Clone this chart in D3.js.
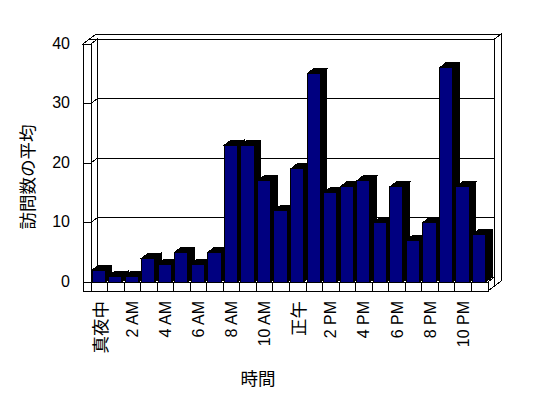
<!DOCTYPE html>
<html>
<head>
<meta charset="utf-8">
<script src="https://cdn.jsdelivr.net/npm/d3@7"></script>
<style>
body { margin: 0; background: #fff; }
svg { display: block; }
</style>
</head>
<body>
<svg id="chart" width="548" height="398"></svg>
<script>
// Data - average visits per hour of the day
var hours = ["真夜中", "1 AM", "2 AM", "3 AM", "4 AM", "5 AM", "6 AM", "7 AM", "8 AM", "9 AM", "10 AM", "11 AM",
             "正午", "1 PM", "2 PM", "3 PM", "4 PM", "5 PM", "6 PM", "7 PM", "8 PM", "9 PM", "10 PM", "11 PM"];
var visits = [2, 1, 1, 4, 3, 5, 3, 5, 23, 23, 17, 12, 19, 35, 15, 16, 17, 10, 16, 7, 10, 36, 16, 8];
var yTicks = [0, 10, 20, 30, 40];
var yTitle = "訪問数の平均";
var xTitle = "時間";

// Layout (front plane of the 3d box)
var pLeft = 91, pRight = 488, pBase = 282, pTop = 44;
var wall = 8, floorH = 9;
var dx = 6.5, dy = -5; // depth offset

var svg = d3.select("#chart");
var g = svg.append("g").attr("shape-rendering", "crispEdges");

var x = d3.scaleBand().domain(hours).range([pLeft, pRight]);
var y = d3.scaleLinear().domain([0, 40]).range([pBase, pTop]);

function poly(pts, fill) {
    return g.append("polygon")
        .attr("points", pts.map(function(p) { return p.join(","); }).join(" "))
        .attr("fill", fill)
        .attr("stroke", "#000")
        .attr("stroke-width", 1);
}

// Back wall slab
var bx1 = pLeft - wall + dx, bx2 = pRight + dx, by1 = pTop + dy, by2 = pBase + floorH + dy;
poly([[bx1, by1], [bx2, by1], [bx2 + dx, by1 + dy], [bx1 + dx, by1 + dy]], "#fff");
poly([[bx2, by1], [bx2 + dx, by1 + dy], [bx2 + dx, by2 + dy], [bx2, by2]], "#fff");
poly([[bx1, by1], [bx2, by1], [bx2, by2], [bx1, by2]], "#fff");

// Left wall slab
poly([[pLeft - wall, pTop], [pLeft, pTop], [pLeft + dx, pTop + dy], [pLeft - wall + dx, pTop + dy]], "#fff");
poly([[pLeft, pTop], [pLeft + dx, pTop + dy], [pLeft + dx, pBase + dy], [pLeft, pBase]], "#fff");
poly([[pLeft - wall, pTop], [pLeft, pTop], [pLeft, pBase + floorH], [pLeft - wall, pBase + floorH]], "#fff");

// Floor slab
poly([[pLeft, pBase], [pRight, pBase], [pRight + dx, pBase + dy], [pLeft + dx, pBase + dy]], "#fff");
poly([[pRight, pBase], [pRight + dx, pBase + dy], [pRight + dx, pBase + floorH + dy], [pRight, pBase + floorH]], "#fff");
poly([[pLeft, pBase], [pRight, pBase], [pRight, pBase + floorH], [pLeft, pBase + floorH]], "#fff");

// Gridlines on back wall, left wall side and ticks on its front
yTicks.forEach(function(v) {
    var yy = y(v);
    if (v > 0 && v < 40) {
        g.append("line").attr("x1", pLeft + dx).attr("x2", pRight + dx)
            .attr("y1", yy + dy).attr("y2", yy + dy).attr("stroke", "#000");
    }
    g.append("line").attr("x1", pLeft).attr("x2", pLeft + dx)
        .attr("y1", yy).attr("y2", yy + dy).attr("stroke", "#000");
    g.append("line").attr("x1", pLeft - wall).attr("x2", pLeft)
        .attr("y1", yy).attr("y2", yy).attr("stroke", "#000");
});

// Category dividers on floor front
hours.forEach(function(h, i) {
    if (i == 0) return;
    g.append("line").attr("x1", x(h)).attr("x2", x(h))
        .attr("y1", pBase).attr("y2", pBase + floorH).attr("stroke", "#000");
});

// Bars (left to right so right neighbours cover the sides)
var bw = x.bandwidth() * 0.8;
hours.forEach(function(h, i) {
    var x0 = x(h) + 1, x1 = x0 + bw, yt = y(visits[i]);
    poly([[x1, yt], [x1 + dx, yt + dy], [x1 + dx, pBase + dy], [x1, pBase]], "#000");
    poly([[x0, yt], [x1, yt], [x1 + dx, yt + dy], [x0 + dx, yt + dy]], "#000");
    g.append("rect").attr("x", x0).attr("y", yt)
        .attr("width", bw).attr("height", pBase - yt)
        .attr("fill", "#000080").attr("stroke", "#000");
});

// Y tick labels
svg.selectAll(".ytick").data(yTicks).enter().append("text")
    .attr("x", 70)
    .attr("y", function(d) { return y(d) - 1; })
    .attr("text-anchor", "end")
    .attr("dominant-baseline", "central")
    .attr("font-family", "Liberation Sans, Arial, sans-serif")
    .attr("font-size", "16px")
    .text(function(d) { return d; });

// X category labels, every other hour, rotated
var isCJK = function(s) { return /[\u3000-\u9fff]/.test(s); };
svg.selectAll(".xlab").data(hours.filter(function(d, i) { return i % 2 == 0; })).enter().append("text")
    .attr("transform", function(d) { return "translate(" + (x(d) + x.bandwidth() / 2) + ",301) rotate(-90)"; })
    .attr("text-anchor", "end")
    .attr("dominant-baseline", "central")
    .attr("font-family", function(d) { return isCJK(d) ? "Noto Sans CJK JP" : "Liberation Sans, Arial, sans-serif"; })
    .attr("font-size", function(d) { return isCJK(d) ? "17.5px" : "16px"; })
    .text(function(d) { return d; });

// Axis titles
svg.append("text")
    .attr("transform", "translate(26,177) rotate(-90)")
    .attr("text-anchor", "middle")
    .attr("dominant-baseline", "central")
    .attr("font-family", "Noto Sans CJK JP")
    .attr("font-size", "17.5px")
    .text(yTitle);

svg.append("text")
    .attr("x", 258).attr("y", 377)
    .attr("text-anchor", "middle")
    .attr("dominant-baseline", "central")
    .attr("font-family", "Noto Sans CJK JP")
    .attr("font-size", "17.5px")
    .text(xTitle);
</script>
</body>
</html>
